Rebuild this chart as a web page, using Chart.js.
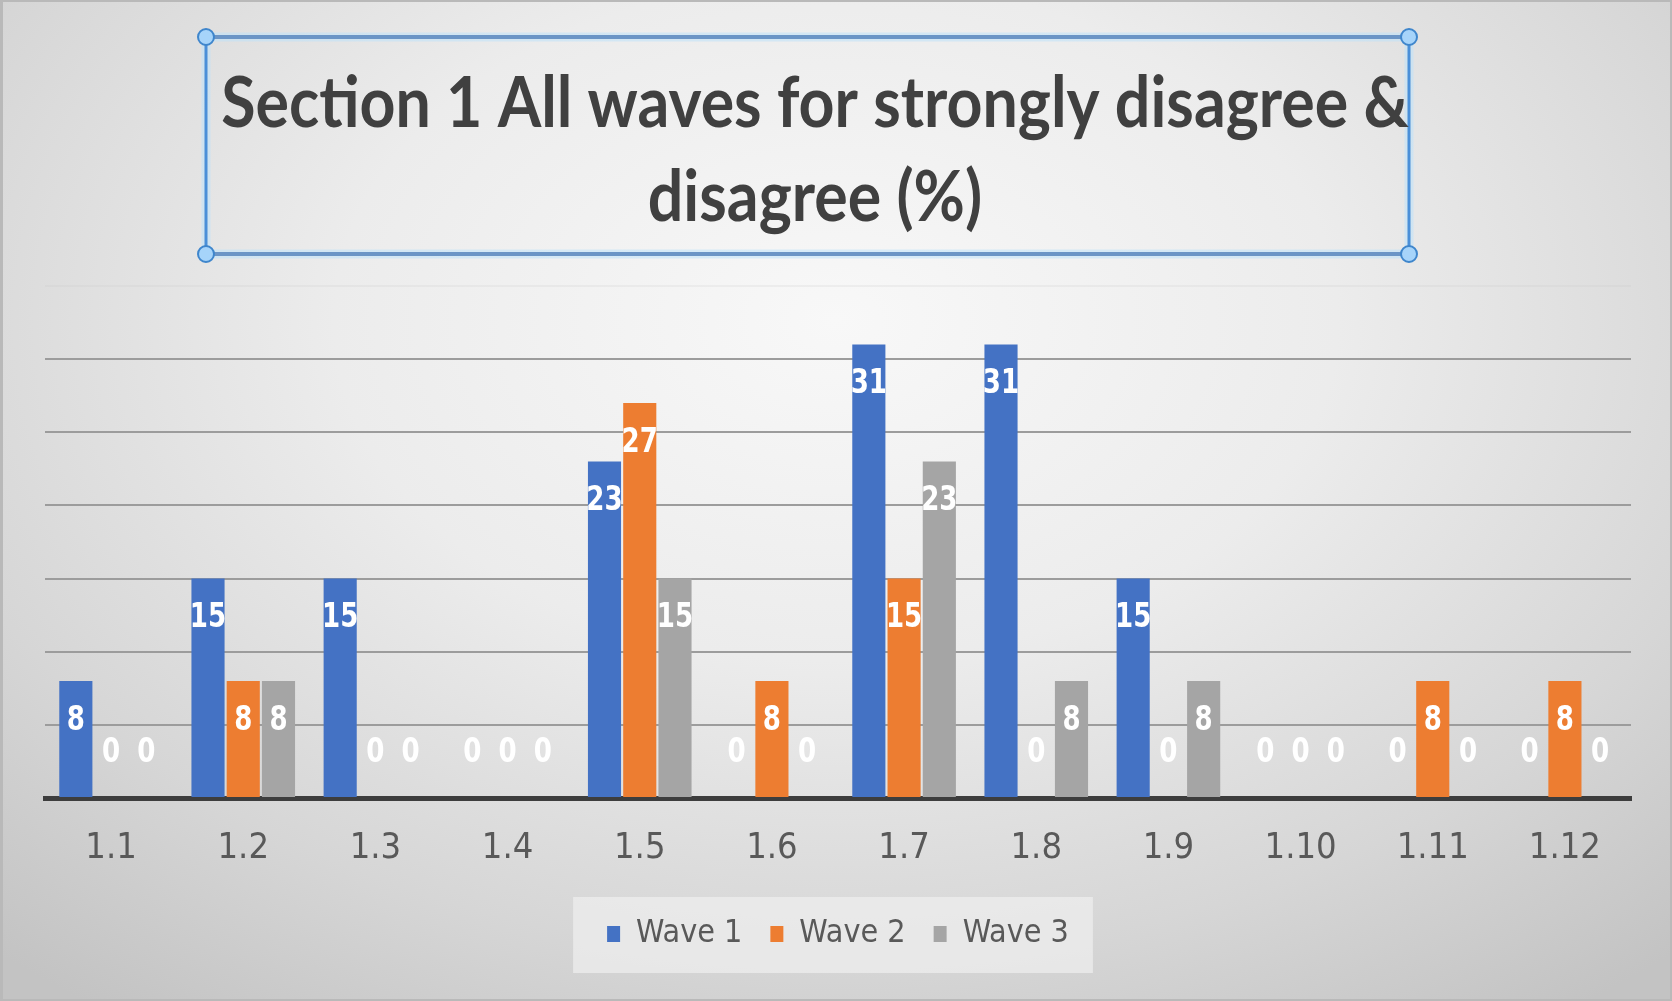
<!DOCTYPE html>
<html>
<head>
<meta charset="utf-8">
<title>Section 1 All waves</title>
<script src="https://cdn.jsdelivr.net/npm/chart.js@4.4.1/dist/chart.umd.min.js"></script>
<style>
  html, body { margin: 0; padding: 0; overflow: hidden; }
  #wrap {
    position: relative;
    width: 1672px;
    height: 1001px;
    background: radial-gradient(ellipse 75% 85% at 50% 32%, #f8f8f8 0%, #ececec 40%, #d6d6d6 75%, #c3c3c3 100%);
  }
  #wrap::after {
    content: "";
    position: absolute;
    inset: 0;
    border: 2px solid #b9b9b9;
    border-left-width: 3px;
    pointer-events: none;
  }
  canvas { display: block; }
</style>
</head>
<body>
<div id="wrap">
  <canvas id="chart" width="1672" height="1001"></canvas>
</div>
<script>
// chart data
const categories = ["1.1", "1.2", "1.3", "1.4", "1.5", "1.6", "1.7", "1.8", "1.9", "1.10", "1.11", "1.12"];
const wave1 = [8, 15, 15, 0, 23, 0, 31, 31, 15, 0, 0, 0];
const wave2 = [0, 8, 0, 0, 27, 8, 15, 0, 0, 0, 8, 8];
const wave3 = [0, 8, 0, 0, 15, 0, 23, 8, 8, 0, 0, 0];
const titleLines = ["Section 1 All waves for strongly disagree &", "disagree (%)"];

const narrow = '"Liberation Sans Narrow", "DejaVu Sans Condensed", "Liberation Sans", sans-serif';
const titleFamily = 'Lato, "Open Sans", sans-serif';

// pick a title size so the first line spans the text box
function fitFontSize(text, weight, family, width) {
  const c = document.createElement("canvas").getContext("2d");
  c.font = weight + " 100px " + family;
  return 100 * width / c.measureText(text).width;
}
const titleSize = fitFontSize(titleLines[0], "bold", titleFamily, 1188);

// draw text a little taller than the font's own proportions
function tallText(ctx, text, x, y, stretch) {
  ctx.save();
  ctx.translate(x, y);
  ctx.scale(1, stretch);
  ctx.fillText(text, 0, 0);
  ctx.restore();
}

// selected title text box with its handles, and the legend panel
const decorations = {
  id: "decorations",
  beforeDraw(chart) {
    const ctx = chart.ctx;
    const boxes = chart.legend.legendHitBoxes;
    if (boxes && boxes.length) {
      const first = boxes[0], last = boxes[boxes.length - 1];
      const cy = first.top + first.height / 2;
      ctx.save();
      ctx.fillStyle = "rgba(238,238,238,0.75)";
      ctx.fillRect(first.left - 34, cy - 37, last.left + last.width - first.left + 58, 76);
      ctx.restore();
    }
  },
  afterDraw(chart) {
    const ctx = chart.ctx;
    const x0 = 206, x1 = 1409, y0 = 37, y1 = 254;
    ctx.save();
    // soft halo round the frame
    ctx.strokeStyle = "rgba(190,225,250,0.55)";
    ctx.lineWidth = 9;
    ctx.strokeRect(x0, y0, x1 - x0, y1 - y0);
    ctx.strokeStyle = "#6b95c6";
    ctx.lineWidth = 4;
    ctx.beginPath();
    ctx.moveTo(x0, y0); ctx.lineTo(x1, y0);
    ctx.moveTo(x0, y1); ctx.lineTo(x1, y1);
    ctx.stroke();
    ctx.strokeStyle = "#4a8fd8";
    ctx.lineWidth = 3;
    ctx.beginPath();
    ctx.moveTo(x0, y0); ctx.lineTo(x0, y1);
    ctx.moveTo(x1, y0); ctx.lineTo(x1, y1);
    ctx.stroke();

    ctx.fillStyle = "#404040";
    ctx.font = "bold " + titleSize.toFixed(1) + "px " + titleFamily;
    ctx.textAlign = "center";
    ctx.textBaseline = "middle";
    tallText(ctx, titleLines[0], 815, 104, 1.14);
    tallText(ctx, titleLines[1], 815, 198, 1.14);

    [[x0, y0], [x1, y0], [x0, y1], [x1, y1]].forEach(([hx, hy]) => {
      ctx.beginPath();
      ctx.arc(hx, hy, 8, 0, Math.PI * 2);
      ctx.fillStyle = "#a6d4fa";
      ctx.fill();
      ctx.lineWidth = 2;
      ctx.strokeStyle = "#3f86cc";
      ctx.stroke();
    });
    ctx.restore();
  }
};

// white value labels just inside the top of each bar
const barValues = {
  id: "barValues",
  afterDatasetsDraw(chart) {
    const ctx = chart.ctx;
    ctx.save();
    ctx.font = "bold 29px " + narrow;
    ctx.fillStyle = "#ffffff";
    ctx.textAlign = "center";
    ctx.textBaseline = "middle";
    chart.data.datasets.forEach((ds, i) => {
      chart.getDatasetMeta(i).data.forEach((bar, j) => {
        const v = ds.data[j];
        const y = v > 0 ? bar.y + 40 : bar.base - 45;
        tallText(ctx, String(v), bar.x, y, 1.15);
      });
    });
    ctx.restore();
  }
};

const ctx = document.getElementById("chart").getContext("2d");
const sectionChart = new Chart(ctx, {
  type: "bar",
  data: {
    labels: categories,
    datasets: [
      { label: "Wave 1", data: wave1, backgroundColor: "#4472c4" },
      { label: "Wave 2", data: wave2, backgroundColor: "#ed7d31" },
      { label: "Wave 3", data: wave3, backgroundColor: "#a5a5a5" },
    ],
  },
  options: {
    responsive: false,
    animation: false,
    layout: { padding: { left: 45, right: 41, top: 286, bottom: 41 } },
    datasets: {
      bar: { categoryPercentage: 0.8, barPercentage: 0.94 },
    },
    scales: {
      x: {
        grid: { display: false },
        border: { display: true, color: "#3d3d3d", width: 5 },
        ticks: { color: "#595959", font: { family: narrow, size: 36 }, padding: 21 },
        afterFit(scale) { scale.height = 92; },
      },
      y: {
        min: 0,
        max: 35,
        ticks: { display: false, stepSize: 5 },
        border: { display: false },
        grid: {
          drawTicks: false,
          lineWidth: 2,
          color: (c) => (c.tick && c.tick.value === 35 ? "rgba(200,200,200,0.2)" : "#9c9c9c"),
        },
        afterFit(scale) { scale.width = 0; },
      },
    },
    plugins: {
      title: { display: false },
      tooltip: { enabled: false },
      legend: {
        position: "bottom",
        labels: {
          color: "#595959",
          font: { family: narrow, size: 32 },
          boxWidth: 13,
          boxHeight: 16,
          padding: 28,
        },
      },
    },
  },
  plugins: [decorations, barValues],
});
</script>
</body>
</html>
